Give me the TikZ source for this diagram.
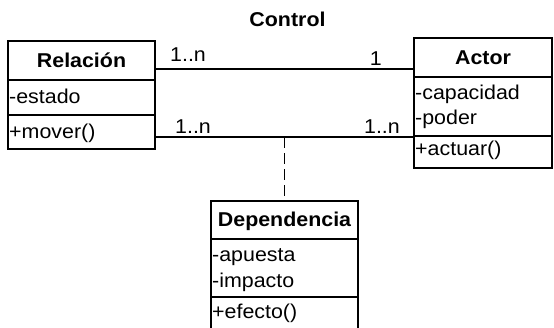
\documentclass[tikz,border=0pt]{standalone}
\usepackage{fontspec}
\setmainfont{Liberation Sans}[FakeStretch=1.07]
\usetikzlibrary{positioning}

\tikzset{
    txt/.style={font=\fontsize{20}{24}\selectfont, inner sep=0pt},
    box/.style={draw, line width=1.9pt, anchor=north west, inner sep=0pt, outer sep=0pt},
    head/.style={box, font=\fontsize{20}{24}\bfseries, text height=14pt, text depth=1pt},
    member/.style={txt, anchor=base west},
    mult/.style={txt},
    assoc/.style={line width=1.5pt},
}

\begin{document}
\begin{tikzpicture}[x=1pt, y=-1pt]
    \useasboundingbox (0,0) rectangle (554,327);
    \clip (0,0) rectangle (554,327);

    \node[txt, font=\fontsize{20}{24}\bfseries, anchor=base] (ctrl) at (287.5,26) {Control};

    % Relacion
    \node[head, minimum width=147pt, minimum height=39pt] (rel1) at (8,41) {Relación};
    \node[box, minimum width=147pt, minimum height=35pt] (rel2) at (rel1.south west) {};
    \node[box, minimum width=147pt, minimum height=34pt] (rel3) at (rel2.south west) {};
    \node[member, below right=23pt and 1pt of rel2.north west, anchor=base west] (estado) {-estado};
    \node[member, below right=23pt and 1pt of rel3.north west, anchor=base west] (mover) {+mover()};

    % Actor
    \node[head, minimum width=138pt, minimum height=39pt] (act1) at (414,38) {Actor};
    \node[box, minimum width=138pt, minimum height=59pt] (act2) at (act1.south west) {};
    \node[box, minimum width=138pt, minimum height=32pt] (act3) at (act2.south west) {};
    \node[member, below right=22pt and 1pt of act2.north west, anchor=base west] (capacidad) {-capacidad};
    \node[member, below right=47pt and 1pt of act2.north west, anchor=base west] (poder) {-poder};
    \node[member, below right=19pt and 1pt of act3.north west, anchor=base west] (actuar) {+actuar()};

    % Dependencia
    \node[head, minimum width=147pt, minimum height=38pt] (dep1) at (211,201) {Dependencia};
    \node[box, minimum width=147pt, minimum height=58pt] (dep2) at (dep1.south west) {};
    \node[box, minimum width=147pt, minimum height=34pt] (dep3) at (dep2.south west) {};
    \node[member, below right=22pt and 1pt of dep2.north west, anchor=base west] (apuesta) {-apuesta};
    \node[member, below right=48pt and 1pt of dep2.north west, anchor=base west] (impacto) {-impacto};
    \node[member, below right=21pt and 1pt of dep3.north west, anchor=base west] (efecto) {+efecto()};

    % associations
    \coordinate (l1) at ([yshift=11pt]rel1.south east);
    \draw[assoc] (l1) -- (l1 -| act1.west) coordinate (l2);
    \coordinate (l3) at ([yshift=-22pt]rel3.north east);
    \draw[assoc] (l3) -- (l3 -| act3.west) coordinate (l4);
    \draw[assoc, line width=1.2pt, dash pattern=on 11pt off 5pt] (dep1.north |- l3) -- (dep1.north);

    \node[mult, above right=8pt and 15pt of l1, anchor=base west] (m1) {1..n};
    \node[mult, above left=4pt and 32pt of l2, anchor=base east] (m2) {1};
    \node[mult, above right=4pt and 20pt of l3, anchor=base west] (m3) {1..n};
    \node[mult, above left=4pt and 14pt of l4, anchor=base east] (m4) {1..n};
\end{tikzpicture}
\end{document}
